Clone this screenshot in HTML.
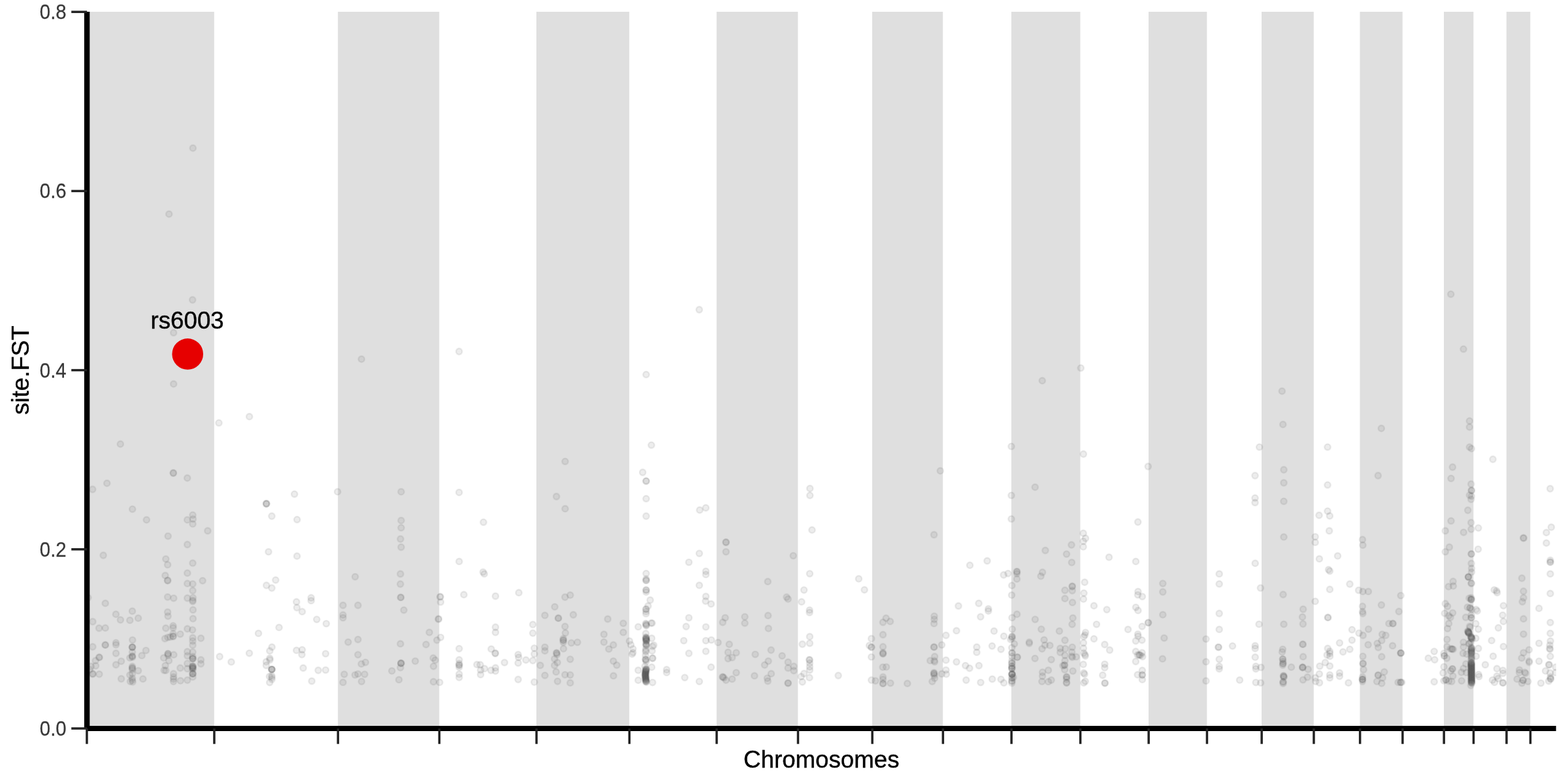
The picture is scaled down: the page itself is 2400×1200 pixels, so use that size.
<!DOCTYPE html>
<html lang="en">
<head>
<meta charset="utf-8">
<title>site.FST by Chromosomes</title>
<style>
html,body{margin:0;padding:0;background:#fff}
body{width:2400px;height:1200px;overflow:hidden;font-family:"Liberation Sans",sans-serif}
svg{display:block}
text{font-family:"Liberation Sans",sans-serif}
.band{fill:#dfdfdf}
.p circle{fill:#4d4d4d;fill-opacity:.1;stroke:#4d4d4d;stroke-opacity:.1;stroke-width:2.36}
.tk{stroke:#222;stroke-width:3.5;fill:none}
.ax{stroke:#000;stroke-width:8.4;fill:none;stroke-linecap:butt}
.yl{font-size:29.33px;fill:#383838;stroke:#383838;stroke-width:.25;text-anchor:end}
.ttl{font-size:36.67px;fill:#000;stroke:#000;stroke-width:.4;text-anchor:middle}
</style>
</head>
<body>
<svg width="2400" height="1200" viewBox="0 0 2400 1200">
<defs><clipPath id="panel"><rect x="133.0" y="18.0" width="2248.7" height="1097.0"/></clipPath></defs>
<rect width="2400" height="1200" fill="#fff"/>
<g class="bands">
<rect class="band" x="132.8" y="18.0" width="195.0" height="1097.0"/>
<rect class="band" x="517.2" y="18.0" width="155.1" height="1097.0"/>
<rect class="band" x="821.0" y="18.0" width="142.2" height="1097.0"/>
<rect class="band" x="1096.8" y="18.0" width="124.5" height="1097.0"/>
<rect class="band" x="1335.0" y="18.0" width="108.2" height="1097.0"/>
<rect class="band" x="1548.0" y="18.0" width="105.5" height="1097.0"/>
<rect class="band" x="1758.0" y="18.0" width="89.3" height="1097.0"/>
<rect class="band" x="1931.0" y="18.0" width="79.8" height="1097.0"/>
<rect class="band" x="2081.5" y="18.0" width="65.2" height="1097.0"/>
<rect class="band" x="2210.0" y="18.0" width="45.3" height="1097.0"/>
<rect class="band" x="2305.8" y="18.0" width="36.5" height="1097.0"/>
</g>
<g class="p" clip-path="url(#panel)">
<circle cx="295.3" cy="226.7" r="4.7"/><circle cx="258.7" cy="327.7" r="4.7"/><circle cx="294.7" cy="459" r="4.7"/><circle cx="265.7" cy="509.3" r="4.7"/><circle cx="265.7" cy="587.7" r="4.7"/><circle cx="553.3" cy="549.7" r="4.7"/>
<circle cx="702.7" cy="538" r="4.7"/><circle cx="381.7" cy="637.7" r="4.7"/><circle cx="335" cy="647.3" r="4.7"/><circle cx="184.3" cy="679.7" r="4.7"/><circle cx="265.3" cy="724" r="4.7"/><circle cx="265.3" cy="724" r="4.7"/>
<circle cx="286.7" cy="731.7" r="4.7"/><circle cx="163.7" cy="739.7" r="4.7"/><circle cx="141.7" cy="749" r="4.7"/><circle cx="202.7" cy="779.3" r="4.7"/><circle cx="224.3" cy="795.7" r="4.7"/><circle cx="295" cy="788.3" r="4.7"/>
<circle cx="286.7" cy="795.7" r="4.7"/><circle cx="407.7" cy="771" r="4.7"/><circle cx="407.7" cy="771" r="4.7"/><circle cx="407.7" cy="771" r="4.7"/><circle cx="450.7" cy="756.3" r="4.7"/><circle cx="416" cy="790" r="4.7"/>
<circle cx="454.7" cy="795.3" r="4.7"/><circle cx="516.7" cy="752.7" r="4.7"/><circle cx="614" cy="752.7" r="4.7"/><circle cx="614" cy="796.7" r="4.7"/><circle cx="702.7" cy="753.7" r="4.7"/><circle cx="740" cy="799.3" r="4.7"/>
<circle cx="1070.3" cy="474" r="4.7"/><circle cx="989" cy="573.3" r="4.7"/><circle cx="1595.3" cy="582.7" r="4.7"/><circle cx="997" cy="681.3" r="4.7"/><circle cx="1548" cy="683.3" r="4.7"/><circle cx="865" cy="706.3" r="4.7"/>
<circle cx="983.7" cy="723" r="4.7"/><circle cx="989" cy="736.3" r="4.7"/><circle cx="989" cy="736.3" r="4.7"/><circle cx="1439.3" cy="720.7" r="4.7"/><circle cx="1239.7" cy="747.7" r="4.7"/><circle cx="1239.7" cy="758.3" r="4.7"/>
<circle cx="851.7" cy="760" r="4.7"/><circle cx="865" cy="778.7" r="4.7"/><circle cx="989" cy="763.3" r="4.7"/><circle cx="989" cy="790" r="4.7"/><circle cx="1080.3" cy="777.3" r="4.7"/><circle cx="1071" cy="780.7" r="4.7"/>
<circle cx="1584.3" cy="745.7" r="4.7"/><circle cx="1548" cy="758.3" r="4.7"/><circle cx="1548" cy="794.3" r="4.7"/><circle cx="2220.7" cy="450.3" r="4.7"/><circle cx="2240" cy="534.3" r="4.7"/><circle cx="1654.3" cy="563.3" r="4.7"/>
<circle cx="1962.3" cy="598.7" r="4.7"/><circle cx="1963.7" cy="649.7" r="4.7"/><circle cx="2114.3" cy="655.7" r="4.7"/><circle cx="2249.3" cy="644.3" r="4.7"/><circle cx="2249.3" cy="653.7" r="4.7"/><circle cx="1927.7" cy="684.3" r="4.7"/>
<circle cx="2032" cy="684.3" r="4.7"/><circle cx="2249.3" cy="684.3" r="4.7"/><circle cx="2252.3" cy="686.7" r="4.7"/><circle cx="1658.3" cy="695" r="4.7"/><circle cx="2285" cy="703" r="4.7"/><circle cx="1757.3" cy="714" r="4.7"/>
<circle cx="2223.3" cy="715" r="4.7"/><circle cx="1965" cy="719" r="4.7"/><circle cx="1921" cy="728" r="4.7"/><circle cx="2109.3" cy="728" r="4.7"/><circle cx="2221" cy="732.3" r="4.7"/><circle cx="1965" cy="739" r="4.7"/>
<circle cx="2032" cy="742.3" r="4.7"/><circle cx="2251.7" cy="741" r="4.7"/><circle cx="2252.3" cy="750.7" r="4.7"/><circle cx="2252.3" cy="750.7" r="4.7"/><circle cx="2249.3" cy="758" r="4.7"/><circle cx="2252.3" cy="759.3" r="4.7"/>
<circle cx="2251.7" cy="764.3" r="4.7"/><circle cx="2372.7" cy="748" r="4.7"/><circle cx="1921" cy="762.3" r="4.7"/><circle cx="1921" cy="769.3" r="4.7"/><circle cx="1965" cy="767.3" r="4.7"/><circle cx="2246.7" cy="781" r="4.7"/>
<circle cx="2032" cy="782.3" r="4.7"/><circle cx="2019" cy="788.7" r="4.7"/><circle cx="2035.3" cy="789.7" r="4.7"/><circle cx="2221" cy="797.3" r="4.7"/><circle cx="2251.7" cy="800" r="4.7"/><circle cx="1741.7" cy="799" r="4.7"/>
<circle cx="295" cy="801.9" r="4.7"/><circle cx="317.9" cy="812.5" r="4.7"/><circle cx="257.2" cy="820.6" r="4.7"/><circle cx="286.8" cy="833.5" r="4.7"/><circle cx="158.1" cy="850" r="4.7"/><circle cx="253.8" cy="855.6" r="4.7"/>
<circle cx="256.6" cy="864.4" r="4.7"/><circle cx="295" cy="861.9" r="4.7"/><circle cx="286.8" cy="877.2" r="4.7"/><circle cx="252.9" cy="880.9" r="4.7"/><circle cx="256.6" cy="888.5" r="4.7"/><circle cx="256.6" cy="888.5" r="4.7"/>
<circle cx="310.1" cy="888.8" r="4.7"/><circle cx="286.8" cy="893.2" r="4.7"/><circle cx="295" cy="893.8" r="4.7"/><circle cx="295" cy="904" r="4.7"/><circle cx="256.6" cy="913.8" r="4.7"/><circle cx="265.8" cy="915.6" r="4.7"/>
<circle cx="286.8" cy="915.5" r="4.7"/><circle cx="295.4" cy="915" r="4.7"/><circle cx="295" cy="918.8" r="4.7"/><circle cx="295" cy="920.6" r="4.7"/><circle cx="161.2" cy="923.4" r="4.7"/><circle cx="134.8" cy="914.8" r="4.7"/>
<circle cx="202.5" cy="935.4" r="4.7"/><circle cx="295.4" cy="933.5" r="4.7"/><circle cx="256.6" cy="936.9" r="4.7"/><circle cx="257.1" cy="943.1" r="4.7"/><circle cx="177.4" cy="940.2" r="4.7"/><circle cx="184.4" cy="948.8" r="4.7"/>
<circle cx="198.8" cy="949.4" r="4.7"/><circle cx="211.6" cy="946.2" r="4.7"/><circle cx="295.4" cy="946.9" r="4.7"/><circle cx="141.9" cy="951.5" r="4.7"/><circle cx="151.6" cy="961.5" r="4.7"/><circle cx="161.2" cy="961.2" r="4.7"/>
<circle cx="253.8" cy="961.5" r="4.7"/><circle cx="265" cy="957.8" r="4.7"/><circle cx="265" cy="961" r="4.7"/><circle cx="265" cy="970" r="4.7"/><circle cx="265" cy="974" r="4.7"/><circle cx="265" cy="974" r="4.7"/>
<circle cx="260.6" cy="975" r="4.7"/><circle cx="256.9" cy="975.6" r="4.7"/><circle cx="252.5" cy="977.5" r="4.7"/><circle cx="275.9" cy="970.6" r="4.7"/><circle cx="286.8" cy="962.5" r="4.7"/><circle cx="294.6" cy="964.1" r="4.7"/>
<circle cx="295" cy="976.2" r="4.7"/><circle cx="295" cy="981.2" r="4.7"/><circle cx="295" cy="987.5" r="4.7"/><circle cx="295" cy="998.1" r="4.7"/><circle cx="295" cy="1005" r="4.7"/><circle cx="295" cy="1008.1" r="4.7"/>
<circle cx="295" cy="1008.1" r="4.7"/><circle cx="295" cy="1008.1" r="4.7"/><circle cx="295" cy="1020" r="4.7"/><circle cx="295" cy="1020" r="4.7"/><circle cx="295" cy="1020" r="4.7"/><circle cx="295" cy="1022.5" r="4.7"/>
<circle cx="295" cy="1022.5" r="4.7"/><circle cx="295" cy="1022.5" r="4.7"/><circle cx="295" cy="1025" r="4.7"/><circle cx="295" cy="1031.2" r="4.7"/><circle cx="295" cy="1031.2" r="4.7"/><circle cx="295" cy="1031.2" r="4.7"/>
<circle cx="295" cy="1036.2" r="4.7"/><circle cx="307.5" cy="976.9" r="4.7"/><circle cx="307.5" cy="1010" r="4.7"/><circle cx="307.5" cy="1016" r="4.7"/><circle cx="286.8" cy="997.5" r="4.7"/><circle cx="286.8" cy="1003.8" r="4.7"/>
<circle cx="286.8" cy="1015.6" r="4.7"/><circle cx="286.8" cy="1023.5" r="4.7"/><circle cx="286.8" cy="1041" r="4.7"/><circle cx="257.1" cy="1000.6" r="4.7"/><circle cx="257.1" cy="1000.6" r="4.7"/><circle cx="257.1" cy="1003.1" r="4.7"/>
<circle cx="265.9" cy="1002.2" r="4.7"/><circle cx="250.6" cy="1006.9" r="4.7"/><circle cx="258.5" cy="1011.2" r="4.7"/><circle cx="253.1" cy="1018.8" r="4.7"/><circle cx="251.2" cy="1026" r="4.7"/><circle cx="253.8" cy="1026.2" r="4.7"/>
<circle cx="275.9" cy="1022.5" r="4.7"/><circle cx="265.6" cy="1031.2" r="4.7"/><circle cx="265.6" cy="1036.2" r="4.7"/><circle cx="265.6" cy="1039.4" r="4.7"/><circle cx="265.6" cy="1043.1" r="4.7"/><circle cx="276.2" cy="1041.9" r="4.7"/>
<circle cx="141.9" cy="990" r="4.7"/><circle cx="161.2" cy="987.2" r="4.7"/><circle cx="161.2" cy="987.2" r="4.7"/><circle cx="177.5" cy="983.8" r="4.7"/><circle cx="177.5" cy="986.9" r="4.7"/><circle cx="177.5" cy="1000" r="4.7"/>
<circle cx="151.9" cy="1006.2" r="4.7"/><circle cx="151.9" cy="1006.2" r="4.7"/><circle cx="146.2" cy="1011.2" r="4.7"/><circle cx="146.5" cy="1019.1" r="4.7"/><circle cx="139.4" cy="1020" r="4.7"/><circle cx="137.5" cy="1025" r="4.7"/>
<circle cx="141.9" cy="1031.5" r="4.7"/><circle cx="141.9" cy="1031.5" r="4.7"/><circle cx="151.9" cy="1031.9" r="4.7"/><circle cx="177.5" cy="1017.5" r="4.7"/><circle cx="185.6" cy="1012.1" r="4.7"/><circle cx="185.6" cy="1039" r="4.7"/>
<circle cx="202.8" cy="979.6" r="4.7"/><circle cx="202.5" cy="990.6" r="4.7"/><circle cx="202.5" cy="990.6" r="4.7"/><circle cx="202.5" cy="990.6" r="4.7"/><circle cx="202.5" cy="998.1" r="4.7"/><circle cx="202.5" cy="1004.4" r="4.7"/>
<circle cx="202.5" cy="1004.4" r="4.7"/><circle cx="202.5" cy="1006.2" r="4.7"/><circle cx="198.8" cy="1006.9" r="4.7"/><circle cx="202.5" cy="1020" r="4.7"/><circle cx="202.5" cy="1022.5" r="4.7"/><circle cx="202.5" cy="1022.5" r="4.7"/>
<circle cx="202.5" cy="1025" r="4.7"/><circle cx="198.8" cy="1033.1" r="4.7"/><circle cx="202.5" cy="1031.2" r="4.7"/><circle cx="202.5" cy="1038.1" r="4.7"/><circle cx="202.5" cy="1041.2" r="4.7"/><circle cx="199.4" cy="1043.1" r="4.7"/>
<circle cx="203.1" cy="1043.8" r="4.7"/><circle cx="223.4" cy="995.6" r="4.7"/><circle cx="217.1" cy="1003.4" r="4.7"/><circle cx="211.6" cy="1026.6" r="4.7"/><circle cx="218.8" cy="1039.2" r="4.7"/><circle cx="395.6" cy="969.4" r="4.7"/>
<circle cx="381.6" cy="999.8" r="4.7"/><circle cx="336.2" cy="1005" r="4.7"/><circle cx="354" cy="1013.2" r="4.7"/><circle cx="614" cy="807.8" r="4.7"/><circle cx="613" cy="825" r="4.7"/><circle cx="614" cy="837.5" r="4.7"/>
<circle cx="612.9" cy="878.5" r="4.7"/><circle cx="612.8" cy="894" r="4.7"/><circle cx="613.4" cy="914.4" r="4.7"/><circle cx="613.4" cy="914.4" r="4.7"/><circle cx="618.1" cy="933.8" r="4.7"/><circle cx="411" cy="844.6" r="4.7"/>
<circle cx="454.6" cy="851.2" r="4.7"/><circle cx="421.9" cy="887.8" r="4.7"/><circle cx="407.8" cy="896" r="4.7"/><circle cx="416" cy="900" r="4.7"/><circle cx="543.6" cy="882.8" r="4.7"/><circle cx="525" cy="926.5" r="4.7"/>
<circle cx="547.9" cy="926.5" r="4.7"/><circle cx="525" cy="941.2" r="4.7"/><circle cx="525" cy="945.6" r="4.7"/><circle cx="476.2" cy="915" r="4.7"/><circle cx="476.2" cy="919.4" r="4.7"/><circle cx="453.8" cy="921.2" r="4.7"/>
<circle cx="454.4" cy="930" r="4.7"/><circle cx="462.5" cy="936.2" r="4.7"/><circle cx="484.8" cy="948.1" r="4.7"/><circle cx="673.8" cy="913.5" r="4.7"/><circle cx="673.8" cy="913.5" r="4.7"/><circle cx="674.4" cy="921.5" r="4.7"/>
<circle cx="671.2" cy="947.5" r="4.7"/><circle cx="671.2" cy="947.5" r="4.7"/><circle cx="499.4" cy="954.6" r="4.7"/><circle cx="427.1" cy="960.4" r="4.7"/><circle cx="416.2" cy="990.4" r="4.7"/><circle cx="412.9" cy="996.2" r="4.7"/>
<circle cx="412.9" cy="1007.5" r="4.7"/><circle cx="413.1" cy="1010" r="4.7"/><circle cx="407.5" cy="1012.9" r="4.7"/><circle cx="407.5" cy="1018.5" r="4.7"/><circle cx="416" cy="1024.6" r="4.7"/><circle cx="416" cy="1024.6" r="4.7"/>
<circle cx="416" cy="1024.6" r="4.7"/><circle cx="416" cy="1024.6" r="4.7"/><circle cx="412.5" cy="1035.4" r="4.7"/><circle cx="416" cy="1034.4" r="4.7"/><circle cx="416" cy="1036.9" r="4.7"/><circle cx="416.2" cy="1039.8" r="4.7"/>
<circle cx="412.8" cy="1044.6" r="4.7"/><circle cx="453.8" cy="995.4" r="4.7"/><circle cx="462.5" cy="994.6" r="4.7"/><circle cx="462.1" cy="1001.9" r="4.7"/><circle cx="498.4" cy="1000.6" r="4.7"/><circle cx="464.1" cy="1022.5" r="4.7"/>
<circle cx="487.1" cy="1026" r="4.7"/><circle cx="498.4" cy="1025.6" r="4.7"/><circle cx="477.2" cy="1042.5" r="4.7"/><circle cx="532.9" cy="982.8" r="4.7"/><circle cx="547.9" cy="978.8" r="4.7"/><circle cx="547.9" cy="1002.1" r="4.7"/>
<circle cx="559.4" cy="1013.8" r="4.7"/><circle cx="553.1" cy="1016.2" r="4.7"/><circle cx="526.9" cy="1032.1" r="4.7"/><circle cx="543.4" cy="1033.1" r="4.7"/><circle cx="547.9" cy="1031.6" r="4.7"/><circle cx="558.1" cy="1032.1" r="4.7"/>
<circle cx="525" cy="1044.4" r="4.7"/><circle cx="553.4" cy="1043.1" r="4.7"/><circle cx="612.9" cy="985.4" r="4.7"/><circle cx="613.8" cy="1015.2" r="4.7"/><circle cx="613.8" cy="1015.2" r="4.7"/><circle cx="613.8" cy="1015.2" r="4.7"/>
<circle cx="612.9" cy="1021.9" r="4.7"/><circle cx="599.8" cy="1026.9" r="4.7"/><circle cx="610.6" cy="1040.4" r="4.7"/><circle cx="635.6" cy="1011.9" r="4.7"/><circle cx="657.2" cy="967.9" r="4.7"/><circle cx="674.4" cy="975.6" r="4.7"/>
<circle cx="668.8" cy="979.8" r="4.7"/><circle cx="652.1" cy="986.5" r="4.7"/><circle cx="663.1" cy="1007.2" r="4.7"/><circle cx="666.2" cy="1010.4" r="4.7"/><circle cx="663.5" cy="1019.8" r="4.7"/><circle cx="663.5" cy="1043.5" r="4.7"/>
<circle cx="672.9" cy="1044.4" r="4.7"/><circle cx="702.8" cy="859.4" r="4.7"/><circle cx="739.4" cy="875.6" r="4.7"/><circle cx="741.2" cy="878.4" r="4.7"/><circle cx="710" cy="910.2" r="4.7"/><circle cx="758.4" cy="912.5" r="4.7"/>
<circle cx="794.1" cy="907.2" r="4.7"/><circle cx="872.8" cy="910.9" r="4.7"/><circle cx="864.8" cy="914" r="4.7"/><circle cx="849.1" cy="928.8" r="4.7"/><circle cx="834" cy="941.9" r="4.7"/><circle cx="854.6" cy="946.2" r="4.7"/>
<circle cx="854.6" cy="946.2" r="4.7"/><circle cx="877.5" cy="941" r="4.7"/><circle cx="930.2" cy="947.5" r="4.7"/><circle cx="989" cy="877.8" r="4.7"/><circle cx="989" cy="886.2" r="4.7"/><circle cx="989" cy="888.4" r="4.7"/>
<circle cx="989" cy="888.4" r="4.7"/><circle cx="989" cy="903.1" r="4.7"/><circle cx="989" cy="903.1" r="4.7"/><circle cx="989" cy="906.2" r="4.7"/><circle cx="995.2" cy="918.5" r="4.7"/><circle cx="991.9" cy="927.5" r="4.7"/>
<circle cx="988.8" cy="932.5" r="4.7"/><circle cx="988.8" cy="932.5" r="4.7"/><circle cx="988.8" cy="936.2" r="4.7"/><circle cx="988.8" cy="939.4" r="4.7"/><circle cx="702.8" cy="992.8" r="4.7"/><circle cx="702.8" cy="1010" r="4.7"/>
<circle cx="702.8" cy="1015.6" r="4.7"/><circle cx="702.8" cy="1018.1" r="4.7"/><circle cx="702.8" cy="1018.1" r="4.7"/><circle cx="702.8" cy="1021.2" r="4.7"/><circle cx="702.8" cy="1031.9" r="4.7"/><circle cx="702.8" cy="1036.9" r="4.7"/>
<circle cx="758.4" cy="960" r="4.7"/><circle cx="758.4" cy="967.9" r="4.7"/><circle cx="751.9" cy="993.4" r="4.7"/><circle cx="758.1" cy="1000" r="4.7"/><circle cx="758.1" cy="1000" r="4.7"/><circle cx="772.2" cy="1014.1" r="4.7"/>
<circle cx="730" cy="1017.2" r="4.7"/><circle cx="735" cy="1017.5" r="4.7"/><circle cx="735.6" cy="1025.6" r="4.7"/><circle cx="741.6" cy="1023.4" r="4.7"/><circle cx="735.6" cy="1032.5" r="4.7"/><circle cx="751.5" cy="1026" r="4.7"/>
<circle cx="758.4" cy="1022.2" r="4.7"/><circle cx="758.4" cy="1027.1" r="4.7"/><circle cx="793.1" cy="1001.9" r="4.7"/><circle cx="793.8" cy="1006.2" r="4.7"/><circle cx="793.1" cy="1014.8" r="4.7"/><circle cx="805" cy="1010.2" r="4.7"/>
<circle cx="793.1" cy="1040" r="4.7"/><circle cx="815.6" cy="955.9" r="4.7"/><circle cx="815.6" cy="969.1" r="4.7"/><circle cx="817.8" cy="992.1" r="4.7"/><circle cx="817.8" cy="1001" r="4.7"/><circle cx="815.6" cy="1011" r="4.7"/>
<circle cx="817.8" cy="1044" r="4.7"/><circle cx="954" cy="954.1" r="4.7"/><circle cx="954" cy="967.9" r="4.7"/><circle cx="864.8" cy="959" r="4.7"/><circle cx="865.4" cy="968.8" r="4.7"/><circle cx="862.2" cy="977.5" r="4.7"/>
<circle cx="862.2" cy="980" r="4.7"/><circle cx="862.2" cy="980" r="4.7"/><circle cx="862.2" cy="983.1" r="4.7"/><circle cx="862.5" cy="992.9" r="4.7"/><circle cx="874.4" cy="984.1" r="4.7"/><circle cx="883.8" cy="983.1" r="4.7"/>
<circle cx="924.4" cy="970.9" r="4.7"/><circle cx="924.4" cy="982.8" r="4.7"/><circle cx="938.8" cy="987.2" r="4.7"/><circle cx="931.9" cy="993.4" r="4.7"/><circle cx="834" cy="990.6" r="4.7"/><circle cx="834" cy="996.2" r="4.7"/>
<circle cx="851.9" cy="999.4" r="4.7"/><circle cx="851.9" cy="999.4" r="4.7"/><circle cx="852.5" cy="1001.9" r="4.7"/><circle cx="848.8" cy="1008.5" r="4.7"/><circle cx="853.1" cy="1014.1" r="4.7"/><circle cx="848.8" cy="1018.5" r="4.7"/>
<circle cx="826.9" cy="1018.4" r="4.7"/><circle cx="851.2" cy="1028.4" r="4.7"/><circle cx="834" cy="1033.8" r="4.7"/><circle cx="864.8" cy="1032.8" r="4.7"/><circle cx="872.8" cy="1033.1" r="4.7"/><circle cx="872.8" cy="1009.1" r="4.7"/>
<circle cx="853.4" cy="1042.8" r="4.7"/><circle cx="872.8" cy="1045.2" r="4.7"/><circle cx="938.8" cy="1011.9" r="4.7"/><circle cx="944" cy="1018.1" r="4.7"/><circle cx="939" cy="1034.4" r="4.7"/><circle cx="963.5" cy="981.2" r="4.7"/>
<circle cx="965.6" cy="986.9" r="4.7"/><circle cx="968.8" cy="993.1" r="4.7"/><circle cx="968.8" cy="998.8" r="4.7"/><circle cx="967.5" cy="1001.2" r="4.7"/><circle cx="976.9" cy="959.4" r="4.7"/><circle cx="976.9" cy="1025.9" r="4.7"/>
<circle cx="976.9" cy="1041.2" r="4.7"/><circle cx="1242.9" cy="811.2" r="4.7"/><circle cx="1111.2" cy="830" r="4.7"/><circle cx="1111.2" cy="830" r="4.7"/><circle cx="1111.2" cy="844.6" r="4.7"/><circle cx="1214.2" cy="850.6" r="4.7"/>
<circle cx="1070.4" cy="847.1" r="4.7"/><circle cx="1054.4" cy="860.6" r="4.7"/><circle cx="1080.4" cy="874.4" r="4.7"/><circle cx="1080.4" cy="879.4" r="4.7"/><circle cx="1239.4" cy="878.1" r="4.7"/><circle cx="1175.2" cy="890.2" r="4.7"/>
<circle cx="1070.4" cy="895.9" r="4.7"/><circle cx="1230.6" cy="903.1" r="4.7"/><circle cx="1080.4" cy="912.9" r="4.7"/><circle cx="1080" cy="920" r="4.7"/><circle cx="1088.4" cy="924.4" r="4.7"/><circle cx="1204" cy="914" r="4.7"/>
<circle cx="1206.2" cy="916.9" r="4.7"/><circle cx="1226.9" cy="921.2" r="4.7"/><circle cx="1239.1" cy="933.8" r="4.7"/><circle cx="1239.1" cy="937.5" r="4.7"/><circle cx="1054.4" cy="945.6" r="4.7"/><circle cx="1110" cy="945.6" r="4.7"/>
<circle cx="1140" cy="944.1" r="4.7"/><circle cx="1175.6" cy="942.2" r="4.7"/><circle cx="998.1" cy="953.8" r="4.7"/><circle cx="997.5" cy="976.9" r="4.7"/><circle cx="1000.6" cy="987.5" r="4.7"/><circle cx="998.8" cy="989.4" r="4.7"/>
<circle cx="998.1" cy="996.2" r="4.7"/><circle cx="998.8" cy="1007.5" r="4.7"/><circle cx="998.8" cy="1007.5" r="4.7"/><circle cx="997.5" cy="1021.2" r="4.7"/><circle cx="998.8" cy="1044.6" r="4.7"/><circle cx="1050.2" cy="959" r="4.7"/>
<circle cx="1080.4" cy="959.6" r="4.7"/><circle cx="1046.6" cy="980.6" r="4.7"/><circle cx="1080.4" cy="980.6" r="4.7"/><circle cx="1088.8" cy="979.6" r="4.7"/><circle cx="1054.4" cy="1000" r="4.7"/><circle cx="1080.4" cy="996.9" r="4.7"/>
<circle cx="1088.4" cy="1021.2" r="4.7"/><circle cx="1020.4" cy="1025" r="4.7"/><circle cx="1020.4" cy="1029.4" r="4.7"/><circle cx="1048.1" cy="1037.1" r="4.7"/><circle cx="1070.4" cy="1043.1" r="4.7"/><circle cx="1106.2" cy="952.5" r="4.7"/>
<circle cx="1140" cy="953.8" r="4.7"/><circle cx="1176.2" cy="961.9" r="4.7"/><circle cx="1099" cy="983.4" r="4.7"/><circle cx="1116.2" cy="986.2" r="4.7"/><circle cx="1114.4" cy="998.5" r="4.7"/><circle cx="1126.9" cy="999.1" r="4.7"/>
<circle cx="1114.4" cy="1008.1" r="4.7"/><circle cx="1120.6" cy="1006.5" r="4.7"/><circle cx="1156" cy="1001.6" r="4.7"/><circle cx="1180.2" cy="995" r="4.7"/><circle cx="1197.1" cy="1003.8" r="4.7"/><circle cx="1176" cy="1011.9" r="4.7"/>
<circle cx="1170.4" cy="1017.8" r="4.7"/><circle cx="1206.2" cy="1013.5" r="4.7"/><circle cx="1206.2" cy="1022.5" r="4.7"/><circle cx="1215" cy="1020" r="4.7"/><circle cx="1215" cy="1026.5" r="4.7"/><circle cx="1126.9" cy="1029.6" r="4.7"/>
<circle cx="1154.8" cy="1034.4" r="4.7"/><circle cx="1180.4" cy="1031.2" r="4.7"/><circle cx="1174.4" cy="1038.1" r="4.7"/><circle cx="1175.2" cy="1042.5" r="4.7"/><circle cx="1106.2" cy="1036.2" r="4.7"/><circle cx="1106.2" cy="1036.2" r="4.7"/>
<circle cx="1108.1" cy="1037.5" r="4.7"/><circle cx="1111.2" cy="1041" r="4.7"/><circle cx="1120.6" cy="1039.4" r="4.7"/><circle cx="1206.2" cy="1045.6" r="4.7"/><circle cx="1206.2" cy="1045.6" r="4.7"/><circle cx="1239.4" cy="974.4" r="4.7"/>
<circle cx="1239.4" cy="984.6" r="4.7"/><circle cx="1228.1" cy="986" r="4.7"/><circle cx="1239" cy="1010" r="4.7"/><circle cx="1239" cy="1010" r="4.7"/><circle cx="1239.4" cy="1015" r="4.7"/><circle cx="1239.4" cy="1020.6" r="4.7"/>
<circle cx="1239.4" cy="1025.6" r="4.7"/><circle cx="1230.6" cy="1031" r="4.7"/><circle cx="1226.2" cy="1035.6" r="4.7"/><circle cx="1239" cy="1037.2" r="4.7"/><circle cx="1228.1" cy="1043.8" r="4.7"/><circle cx="1283.1" cy="1034" r="4.7"/>
<circle cx="1429.6" cy="818.5" r="4.7"/><circle cx="1314.4" cy="885.9" r="4.7"/><circle cx="1323.1" cy="902.8" r="4.7"/><circle cx="1511" cy="858.5" r="4.7"/><circle cx="1484.5" cy="865.2" r="4.7"/><circle cx="1542.9" cy="877.8" r="4.7"/>
<circle cx="1536.2" cy="880" r="4.7"/><circle cx="1556.5" cy="875" r="4.7"/><circle cx="1556.5" cy="875" r="4.7"/><circle cx="1556.5" cy="878.1" r="4.7"/><circle cx="1556.5" cy="886.2" r="4.7"/><circle cx="1548.8" cy="896.2" r="4.7"/>
<circle cx="1548.5" cy="910.9" r="4.7"/><circle cx="1595.6" cy="876" r="4.7"/><circle cx="1593.1" cy="881.9" r="4.7"/><circle cx="1467" cy="927.5" r="4.7"/><circle cx="1498.1" cy="923.5" r="4.7"/><circle cx="1512.8" cy="931.9" r="4.7"/>
<circle cx="1512.8" cy="935.2" r="4.7"/><circle cx="1500.9" cy="944.1" r="4.7"/><circle cx="1556.6" cy="940.2" r="4.7"/><circle cx="1549" cy="945.4" r="4.7"/><circle cx="1584.4" cy="948.1" r="4.7"/><circle cx="1356.2" cy="946.2" r="4.7"/>
<circle cx="1430" cy="943.1" r="4.7"/><circle cx="1430" cy="948.1" r="4.7"/><circle cx="1351.5" cy="952.5" r="4.7"/><circle cx="1362.5" cy="951.2" r="4.7"/><circle cx="1429.6" cy="954.4" r="4.7"/><circle cx="1351.5" cy="971.5" r="4.7"/>
<circle cx="1333.8" cy="977.5" r="4.7"/><circle cx="1330.6" cy="988.1" r="4.7"/><circle cx="1333.8" cy="990.6" r="4.7"/><circle cx="1333.8" cy="990.6" r="4.7"/><circle cx="1351.5" cy="990" r="4.7"/><circle cx="1351.5" cy="998.8" r="4.7"/>
<circle cx="1351.5" cy="1000.6" r="4.7"/><circle cx="1351.5" cy="1000.6" r="4.7"/><circle cx="1333.8" cy="1005.6" r="4.7"/><circle cx="1351.2" cy="1021.2" r="4.7"/><circle cx="1356.6" cy="1020.9" r="4.7"/><circle cx="1351.5" cy="1036.2" r="4.7"/>
<circle cx="1351.5" cy="1040" r="4.7"/><circle cx="1351.5" cy="1046.2" r="4.7"/><circle cx="1351.5" cy="1046.2" r="4.7"/><circle cx="1333.8" cy="1041" r="4.7"/><circle cx="1340" cy="1042.1" r="4.7"/><circle cx="1362.9" cy="1045.6" r="4.7"/>
<circle cx="1388.8" cy="1046.2" r="4.7"/><circle cx="1429.6" cy="990.4" r="4.7"/><circle cx="1429.6" cy="990.4" r="4.7"/><circle cx="1441.5" cy="987.1" r="4.7"/><circle cx="1430.6" cy="1005" r="4.7"/><circle cx="1423.8" cy="1011.2" r="4.7"/>
<circle cx="1430" cy="1011.2" r="4.7"/><circle cx="1430.6" cy="1013.1" r="4.7"/><circle cx="1429.6" cy="1029.4" r="4.7"/><circle cx="1429.6" cy="1031.2" r="4.7"/><circle cx="1429.6" cy="1031.2" r="4.7"/><circle cx="1430" cy="1033.8" r="4.7"/>
<circle cx="1430.6" cy="1038.1" r="4.7"/><circle cx="1426.9" cy="1043.1" r="4.7"/><circle cx="1441.5" cy="1031.5" r="4.7"/><circle cx="1447.9" cy="972.5" r="4.7"/><circle cx="1464" cy="965.4" r="4.7"/><circle cx="1447.9" cy="1010.4" r="4.7"/>
<circle cx="1464" cy="1013.1" r="4.7"/><circle cx="1447.9" cy="1025.6" r="4.7"/><circle cx="1448.4" cy="1031.9" r="4.7"/><circle cx="1477.8" cy="1018.8" r="4.7"/><circle cx="1484" cy="1022.8" r="4.7"/><circle cx="1498.4" cy="1018.8" r="4.7"/>
<circle cx="1495" cy="990.4" r="4.7"/><circle cx="1495" cy="998.4" r="4.7"/><circle cx="1521.5" cy="965.9" r="4.7"/><circle cx="1536.5" cy="973.8" r="4.7"/><circle cx="1518.5" cy="988.8" r="4.7"/><circle cx="1532.1" cy="993.8" r="4.7"/>
<circle cx="1478.8" cy="1041" r="4.7"/><circle cx="1501" cy="1044.6" r="4.7"/><circle cx="1518.8" cy="1039.4" r="4.7"/><circle cx="1532.1" cy="1039.8" r="4.7"/><circle cx="1536.5" cy="1045.2" r="4.7"/><circle cx="1549.4" cy="963.1" r="4.7"/>
<circle cx="1549" cy="974.4" r="4.7"/><circle cx="1549" cy="974.4" r="4.7"/><circle cx="1549" cy="976.9" r="4.7"/><circle cx="1546.9" cy="978.8" r="4.7"/><circle cx="1552.5" cy="985.6" r="4.7"/><circle cx="1548.8" cy="991.2" r="4.7"/>
<circle cx="1549" cy="999.4" r="4.7"/><circle cx="1549" cy="999.4" r="4.7"/><circle cx="1549" cy="1005" r="4.7"/><circle cx="1548.8" cy="1011.2" r="4.7"/><circle cx="1548.8" cy="1015" r="4.7"/><circle cx="1548.8" cy="1015" r="4.7"/>
<circle cx="1548.8" cy="1020" r="4.7"/><circle cx="1548.8" cy="1020" r="4.7"/><circle cx="1548.8" cy="1023.1" r="4.7"/><circle cx="1548.8" cy="1023.1" r="4.7"/><circle cx="1548.8" cy="1023.1" r="4.7"/><circle cx="1549" cy="1031.9" r="4.7"/>
<circle cx="1549" cy="1031.9" r="4.7"/><circle cx="1549" cy="1031.9" r="4.7"/><circle cx="1549" cy="1031.9" r="4.7"/><circle cx="1549" cy="1031.9" r="4.7"/><circle cx="1549" cy="1037.5" r="4.7"/><circle cx="1549" cy="1037.5" r="4.7"/>
<circle cx="1551.2" cy="1036.9" r="4.7"/><circle cx="1548.8" cy="1042.5" r="4.7"/><circle cx="1548.8" cy="1042.5" r="4.7"/><circle cx="1548.8" cy="1045.6" r="4.7"/><circle cx="1557.1" cy="1005.9" r="4.7"/><circle cx="1557.1" cy="1005.9" r="4.7"/>
<circle cx="1575.4" cy="982.8" r="4.7"/><circle cx="1575.4" cy="984.8" r="4.7"/><circle cx="1584.1" cy="1007.8" r="4.7"/><circle cx="1593.8" cy="963.1" r="4.7"/><circle cx="1598.1" cy="979.4" r="4.7"/><circle cx="1595" cy="993.1" r="4.7"/>
<circle cx="1595.6" cy="1029" r="4.7"/><circle cx="1595.6" cy="1035" r="4.7"/><circle cx="1594.8" cy="1043.1" r="4.7"/><circle cx="1600" cy="842.5" r="4.7"/><circle cx="1640" cy="834" r="4.7"/><circle cx="1632.5" cy="848.1" r="4.7"/>
<circle cx="1640.4" cy="860.9" r="4.7"/><circle cx="1641.2" cy="897.5" r="4.7"/><circle cx="1641.2" cy="897.5" r="4.7"/><circle cx="1641.2" cy="904" r="4.7"/><circle cx="1630" cy="903.5" r="4.7"/><circle cx="1630" cy="916.2" r="4.7"/>
<circle cx="1641.5" cy="922.2" r="4.7"/><circle cx="1642.1" cy="945.9" r="4.7"/><circle cx="1658.1" cy="816.2" r="4.7"/><circle cx="1661.5" cy="824" r="4.7"/><circle cx="1658.1" cy="828.5" r="4.7"/><circle cx="1658.1" cy="836.9" r="4.7"/>
<circle cx="1660.2" cy="891.2" r="4.7"/><circle cx="1659" cy="907.8" r="4.7"/><circle cx="1658.4" cy="916.9" r="4.7"/><circle cx="1674.4" cy="927.2" r="4.7"/><circle cx="1694.1" cy="933.1" r="4.7"/><circle cx="1697.5" cy="852.9" r="4.7"/>
<circle cx="1738.5" cy="859.4" r="4.7"/><circle cx="1741.9" cy="905.4" r="4.7"/><circle cx="1741.6" cy="910.6" r="4.7"/><circle cx="1748.4" cy="913.1" r="4.7"/><circle cx="1738.5" cy="929.6" r="4.7"/><circle cx="1741.9" cy="934.4" r="4.7"/>
<circle cx="1779.8" cy="893.1" r="4.7"/><circle cx="1779.8" cy="906" r="4.7"/><circle cx="1779.8" cy="940.9" r="4.7"/><circle cx="1866.2" cy="878.4" r="4.7"/><circle cx="1866.2" cy="893.8" r="4.7"/><circle cx="1866.2" cy="939" r="4.7"/>
<circle cx="1641" cy="955.6" r="4.7"/><circle cx="1621.5" cy="965.9" r="4.7"/><circle cx="1630" cy="980" r="4.7"/><circle cx="1606.9" cy="987.9" r="4.7"/><circle cx="1599.4" cy="987.5" r="4.7"/><circle cx="1622.8" cy="992.5" r="4.7"/>
<circle cx="1630.6" cy="992.9" r="4.7"/><circle cx="1641.2" cy="990.6" r="4.7"/><circle cx="1622.8" cy="998.5" r="4.7"/><circle cx="1640.6" cy="998.1" r="4.7"/><circle cx="1630" cy="1003.1" r="4.7"/><circle cx="1640.6" cy="1004.4" r="4.7"/>
<circle cx="1641.2" cy="1006.2" r="4.7"/><circle cx="1647.2" cy="1005.4" r="4.7"/><circle cx="1609.1" cy="1009.6" r="4.7"/><circle cx="1630" cy="1011.2" r="4.7"/><circle cx="1629.4" cy="1018.1" r="4.7"/><circle cx="1629.4" cy="1018.1" r="4.7"/>
<circle cx="1626.9" cy="1018.8" r="4.7"/><circle cx="1629.6" cy="1025" r="4.7"/><circle cx="1642.1" cy="1027.1" r="4.7"/><circle cx="1604.6" cy="1025.9" r="4.7"/><circle cx="1632.5" cy="1036.2" r="4.7"/><circle cx="1632.5" cy="1036.2" r="4.7"/>
<circle cx="1632.5" cy="1039.4" r="4.7"/><circle cx="1632.5" cy="1045" r="4.7"/><circle cx="1632.5" cy="1045" r="4.7"/><circle cx="1609.1" cy="1041" r="4.7"/><circle cx="1604.6" cy="1043.4" r="4.7"/><circle cx="1661.5" cy="968.1" r="4.7"/>
<circle cx="1660.6" cy="971.9" r="4.7"/><circle cx="1658.8" cy="974.4" r="4.7"/><circle cx="1658.4" cy="984" r="4.7"/><circle cx="1658.4" cy="992.2" r="4.7"/><circle cx="1658.8" cy="999.4" r="4.7"/><circle cx="1660.6" cy="1001.9" r="4.7"/>
<circle cx="1661.2" cy="1004" r="4.7"/><circle cx="1658.1" cy="1016.9" r="4.7"/><circle cx="1658.8" cy="1030" r="4.7"/><circle cx="1660" cy="1031.9" r="4.7"/><circle cx="1661.2" cy="1042.8" r="4.7"/><circle cx="1658.8" cy="1045.2" r="4.7"/>
<circle cx="1678.4" cy="955.6" r="4.7"/><circle cx="1674.4" cy="977.8" r="4.7"/><circle cx="1690.9" cy="986.5" r="4.7"/><circle cx="1698.5" cy="995" r="4.7"/><circle cx="1690.9" cy="1016.6" r="4.7"/><circle cx="1690.9" cy="1021.9" r="4.7"/>
<circle cx="1687.8" cy="1033.5" r="4.7"/><circle cx="1691.2" cy="1045.6" r="4.7"/><circle cx="1691.2" cy="1045.6" r="4.7"/><circle cx="1726.6" cy="963.4" r="4.7"/><circle cx="1748.1" cy="958.8" r="4.7"/><circle cx="1757.5" cy="953.1" r="4.7"/>
<circle cx="1757.5" cy="953.1" r="4.7"/><circle cx="1741.6" cy="970.6" r="4.7"/><circle cx="1741.9" cy="973.8" r="4.7"/><circle cx="1738.4" cy="981" r="4.7"/><circle cx="1747.9" cy="979.8" r="4.7"/><circle cx="1738.4" cy="997.2" r="4.7"/>
<circle cx="1748.1" cy="999.1" r="4.7"/><circle cx="1741.2" cy="1002.5" r="4.7"/><circle cx="1743.8" cy="1002.5" r="4.7"/><circle cx="1743.8" cy="1002.5" r="4.7"/><circle cx="1746.2" cy="1003.1" r="4.7"/><circle cx="1748.8" cy="1005" r="4.7"/>
<circle cx="1738.4" cy="1012.5" r="4.7"/><circle cx="1748.4" cy="1026.2" r="4.7"/><circle cx="1741.2" cy="1032.8" r="4.7"/><circle cx="1748.4" cy="1033.1" r="4.7"/><circle cx="1748.4" cy="1033.1" r="4.7"/><circle cx="1748.4" cy="1040.2" r="4.7"/>
<circle cx="1781.9" cy="976.6" r="4.7"/><circle cx="1779.4" cy="1008.4" r="4.7"/><circle cx="1846" cy="978.1" r="4.7"/><circle cx="1846" cy="1012.9" r="4.7"/><circle cx="1846" cy="1042.2" r="4.7"/><circle cx="1866.2" cy="963.4" r="4.7"/>
<circle cx="1865" cy="990.6" r="4.7"/><circle cx="1865" cy="990.6" r="4.7"/><circle cx="1886.5" cy="988.8" r="4.7"/><circle cx="1866.2" cy="1009.1" r="4.7"/><circle cx="1866.2" cy="1020" r="4.7"/><circle cx="1866.2" cy="1023.8" r="4.7"/>
<circle cx="1897.5" cy="1040.9" r="4.7"/><circle cx="1965" cy="821.9" r="4.7"/><circle cx="1921.2" cy="862.2" r="4.7"/><circle cx="1929.4" cy="900" r="4.7"/><circle cx="1964" cy="910" r="4.7"/><circle cx="1994.6" cy="932.5" r="4.7"/>
<circle cx="1993.5" cy="944.4" r="4.7"/><circle cx="2034.6" cy="812.5" r="4.7"/><circle cx="2013.1" cy="821.6" r="4.7"/><circle cx="2013.1" cy="830.2" r="4.7"/><circle cx="2019.4" cy="855.4" r="4.7"/><circle cx="2047.5" cy="850.9" r="4.7"/>
<circle cx="2033.5" cy="871.9" r="4.7"/><circle cx="2035.4" cy="874.1" r="4.7"/><circle cx="2066" cy="894" r="4.7"/><circle cx="2035.4" cy="902.2" r="4.7"/><circle cx="2013.1" cy="920.4" r="4.7"/><circle cx="2032.5" cy="945.2" r="4.7"/>
<circle cx="2032.5" cy="945.2" r="4.7"/><circle cx="2085.4" cy="825.9" r="4.7"/><circle cx="2085.9" cy="834.4" r="4.7"/><circle cx="2079.6" cy="903.5" r="4.7"/><circle cx="2085.9" cy="905.4" r="4.7"/><circle cx="2094.4" cy="905.4" r="4.7"/>
<circle cx="2144.1" cy="911.6" r="4.7"/><circle cx="2085.4" cy="928.1" r="4.7"/><circle cx="2085.4" cy="936.2" r="4.7"/><circle cx="2085.9" cy="939" r="4.7"/><circle cx="2114.4" cy="926" r="4.7"/><circle cx="2141.2" cy="936" r="4.7"/>
<circle cx="1927.1" cy="955.4" r="4.7"/><circle cx="1965" cy="955.4" r="4.7"/><circle cx="1994.4" cy="955" r="4.7"/><circle cx="1921.2" cy="988.4" r="4.7"/><circle cx="1921.2" cy="992.5" r="4.7"/><circle cx="1921.2" cy="1005.9" r="4.7"/>
<circle cx="1922.2" cy="1020" r="4.7"/><circle cx="1922.2" cy="1023.8" r="4.7"/><circle cx="1930" cy="1021.5" r="4.7"/><circle cx="1922.2" cy="1044.6" r="4.7"/><circle cx="1929.6" cy="1045.2" r="4.7"/><circle cx="1963.4" cy="993.8" r="4.7"/>
<circle cx="1962.5" cy="997.9" r="4.7"/><circle cx="1963.4" cy="1008.8" r="4.7"/><circle cx="1963.4" cy="1008.8" r="4.7"/><circle cx="1963.8" cy="1012.5" r="4.7"/><circle cx="1963.8" cy="1015.6" r="4.7"/><circle cx="1963.8" cy="1015.6" r="4.7"/>
<circle cx="1963.4" cy="1018.1" r="4.7"/><circle cx="1976.5" cy="1021.2" r="4.7"/><circle cx="1964.6" cy="1034.4" r="4.7"/><circle cx="1964.6" cy="1034.4" r="4.7"/><circle cx="1965" cy="1036.2" r="4.7"/><circle cx="1965" cy="1036.2" r="4.7"/>
<circle cx="1964" cy="1043.8" r="4.7"/><circle cx="1964" cy="1043.8" r="4.7"/><circle cx="1964" cy="1046.2" r="4.7"/><circle cx="1994.1" cy="986.2" r="4.7"/><circle cx="1994.1" cy="986.2" r="4.7"/><circle cx="1994.6" cy="1005.2" r="4.7"/>
<circle cx="1993.8" cy="1021.5" r="4.7"/><circle cx="1993.8" cy="1021.5" r="4.7"/><circle cx="1993.8" cy="1021.5" r="4.7"/><circle cx="2002.2" cy="1024.4" r="4.7"/><circle cx="2001.2" cy="1036.5" r="4.7"/><circle cx="1994.4" cy="1040.6" r="4.7"/>
<circle cx="2069.4" cy="963.8" r="4.7"/><circle cx="2080" cy="969.1" r="4.7"/><circle cx="2069.4" cy="979.8" r="4.7"/><circle cx="2050.4" cy="984.1" r="4.7"/><circle cx="2032.2" cy="992.5" r="4.7"/><circle cx="2035.4" cy="996.9" r="4.7"/>
<circle cx="2035.4" cy="1000" r="4.7"/><circle cx="2031.2" cy="1002.5" r="4.7"/><circle cx="2035.6" cy="1004.4" r="4.7"/><circle cx="2055.6" cy="997.8" r="4.7"/><circle cx="2066" cy="993.8" r="4.7"/><circle cx="2028.4" cy="1014.1" r="4.7"/>
<circle cx="2020" cy="1019.6" r="4.7"/><circle cx="2035.4" cy="1019.4" r="4.7"/><circle cx="2019.4" cy="1031.6" r="4.7"/><circle cx="2035.4" cy="1033.1" r="4.7"/><circle cx="2035.4" cy="1037.5" r="4.7"/><circle cx="2050.4" cy="1030" r="4.7"/>
<circle cx="2050.4" cy="1035" r="4.7"/><circle cx="2013.1" cy="1037.5" r="4.7"/><circle cx="2013.8" cy="1043.1" r="4.7"/><circle cx="2019.6" cy="1045" r="4.7"/><circle cx="2064" cy="1045.2" r="4.7"/><circle cx="2125.9" cy="954.4" r="4.7"/>
<circle cx="2131.9" cy="954.4" r="4.7"/><circle cx="2131.9" cy="954.4" r="4.7"/><circle cx="2094.6" cy="963.1" r="4.7"/><circle cx="2086.2" cy="972.5" r="4.7"/><circle cx="2115.6" cy="970.9" r="4.7"/><circle cx="2121" cy="972.5" r="4.7"/>
<circle cx="2114.8" cy="980.4" r="4.7"/><circle cx="2108.1" cy="984.8" r="4.7"/><circle cx="2094.1" cy="986.9" r="4.7"/><circle cx="2109.6" cy="991" r="4.7"/><circle cx="2131.5" cy="988.4" r="4.7"/><circle cx="2144.1" cy="999.6" r="4.7"/>
<circle cx="2144.1" cy="999.6" r="4.7"/><circle cx="2144.1" cy="999.6" r="4.7"/><circle cx="2085.9" cy="1004.6" r="4.7"/><circle cx="2114.8" cy="1005.2" r="4.7"/><circle cx="2086.2" cy="1015.6" r="4.7"/><circle cx="2086.2" cy="1015.6" r="4.7"/>
<circle cx="2087.1" cy="1025" r="4.7"/><circle cx="2118.8" cy="1028.4" r="4.7"/><circle cx="2109.4" cy="1033.4" r="4.7"/><circle cx="2109.4" cy="1033.4" r="4.7"/><circle cx="2116.2" cy="1037.5" r="4.7"/><circle cx="2085.4" cy="1036.2" r="4.7"/>
<circle cx="2085.4" cy="1040" r="4.7"/><circle cx="2085.4" cy="1040" r="4.7"/><circle cx="2085.4" cy="1040" r="4.7"/><circle cx="2085.4" cy="1043.1" r="4.7"/><circle cx="2107.5" cy="1043.1" r="4.7"/><circle cx="2114.8" cy="1045.9" r="4.7"/>
<circle cx="2140" cy="1044.4" r="4.7"/><circle cx="2143.8" cy="1044.4" r="4.7"/><circle cx="2143.8" cy="1044.4" r="4.7"/><circle cx="2145.6" cy="1044.4" r="4.7"/><circle cx="2195.2" cy="997.1" r="4.7"/><circle cx="2186.2" cy="1007.5" r="4.7"/>
<circle cx="2195.9" cy="1009.8" r="4.7"/><circle cx="2195.2" cy="1043.5" r="4.7"/><circle cx="2212.2" cy="812.5" r="4.7"/><circle cx="2240.2" cy="814.8" r="4.7"/><circle cx="2251.9" cy="810" r="4.7"/><circle cx="2262.8" cy="808.1" r="4.7"/>
<circle cx="2218.4" cy="837.5" r="4.7"/><circle cx="2212.2" cy="844.6" r="4.7"/><circle cx="2252.1" cy="847.9" r="4.7"/><circle cx="2252.1" cy="847.9" r="4.7"/><circle cx="2262.5" cy="840.6" r="4.7"/><circle cx="2252.1" cy="862.5" r="4.7"/>
<circle cx="2252.5" cy="870" r="4.7"/><circle cx="2252.5" cy="875.6" r="4.7"/><circle cx="2247.5" cy="883.1" r="4.7"/><circle cx="2247.5" cy="883.1" r="4.7"/><circle cx="2247.5" cy="883.1" r="4.7"/><circle cx="2252.1" cy="892.8" r="4.7"/>
<circle cx="2252.1" cy="892.8" r="4.7"/><circle cx="2224.1" cy="890" r="4.7"/><circle cx="2224.4" cy="896.9" r="4.7"/><circle cx="2217.2" cy="897.9" r="4.7"/><circle cx="2251.9" cy="915" r="4.7"/><circle cx="2251.9" cy="917.5" r="4.7"/>
<circle cx="2251.9" cy="917.5" r="4.7"/><circle cx="2251.9" cy="917.5" r="4.7"/><circle cx="2248.8" cy="915.6" r="4.7"/><circle cx="2212.2" cy="924" r="4.7"/><circle cx="2215.6" cy="928.1" r="4.7"/><circle cx="2246.2" cy="929.4" r="4.7"/>
<circle cx="2250" cy="930.6" r="4.7"/><circle cx="2250" cy="930.6" r="4.7"/><circle cx="2252.5" cy="932.5" r="4.7"/><circle cx="2259.4" cy="932.9" r="4.7"/><circle cx="2261.2" cy="935.2" r="4.7"/><circle cx="2211.2" cy="938.8" r="4.7"/>
<circle cx="2223.5" cy="938.1" r="4.7"/><circle cx="2217.5" cy="942.5" r="4.7"/><circle cx="2220" cy="945" r="4.7"/><circle cx="2243.5" cy="945" r="4.7"/><circle cx="2252.1" cy="941.2" r="4.7"/><circle cx="2252.1" cy="945.6" r="4.7"/>
<circle cx="2252.1" cy="945.6" r="4.7"/><circle cx="2287.1" cy="902.9" r="4.7"/><circle cx="2290.6" cy="904.4" r="4.7"/><circle cx="2291.5" cy="907.2" r="4.7"/><circle cx="2301.2" cy="927.1" r="4.7"/><circle cx="2300" cy="941.6" r="4.7"/>
<circle cx="2331.9" cy="823.5" r="4.7"/><circle cx="2331.9" cy="823.5" r="4.7"/><circle cx="2329.4" cy="885" r="4.7"/><circle cx="2331.9" cy="905" r="4.7"/><circle cx="2331.9" cy="915" r="4.7"/><circle cx="2330.2" cy="921" r="4.7"/>
<circle cx="2331.9" cy="947.2" r="4.7"/><circle cx="2374.4" cy="806.9" r="4.7"/><circle cx="2366.9" cy="815.2" r="4.7"/><circle cx="2366.9" cy="831.2" r="4.7"/><circle cx="2372.9" cy="857.5" r="4.7"/><circle cx="2372.9" cy="860.4" r="4.7"/>
<circle cx="2372.9" cy="860.4" r="4.7"/><circle cx="2372.9" cy="878.4" r="4.7"/><circle cx="2372.9" cy="908.4" r="4.7"/><circle cx="2355.6" cy="931.2" r="4.7"/><circle cx="2217.5" cy="954.4" r="4.7"/><circle cx="2215.6" cy="962.1" r="4.7"/>
<circle cx="2214.8" cy="978.8" r="4.7"/><circle cx="2214.8" cy="990" r="4.7"/><circle cx="2220" cy="993.1" r="4.7"/><circle cx="2222.5" cy="993.4" r="4.7"/><circle cx="2222.5" cy="993.4" r="4.7"/><circle cx="2224.4" cy="993.8" r="4.7"/>
<circle cx="2210" cy="1000" r="4.7"/><circle cx="2210.6" cy="1003.8" r="4.7"/><circle cx="2210.6" cy="1003.8" r="4.7"/><circle cx="2214.4" cy="1007.5" r="4.7"/><circle cx="2210" cy="1020.6" r="4.7"/><circle cx="2223.1" cy="1023.8" r="4.7"/>
<circle cx="2223.1" cy="1023.8" r="4.7"/><circle cx="2220.6" cy="1026.9" r="4.7"/><circle cx="2208.8" cy="1030" r="4.7"/><circle cx="2223.8" cy="1034.8" r="4.7"/><circle cx="2213.1" cy="1040.6" r="4.7"/><circle cx="2213.1" cy="1040.6" r="4.7"/>
<circle cx="2210" cy="1041.9" r="4.7"/><circle cx="2217.5" cy="1042.5" r="4.7"/><circle cx="2221.9" cy="1043.1" r="4.7"/><circle cx="2240" cy="983.1" r="4.7"/><circle cx="2240" cy="990.2" r="4.7"/><circle cx="2239.4" cy="1000" r="4.7"/>
<circle cx="2245" cy="1001.2" r="4.7"/><circle cx="2243.8" cy="1016.2" r="4.7"/><circle cx="2240" cy="1023.1" r="4.7"/><circle cx="2236.9" cy="1029" r="4.7"/><circle cx="2244.4" cy="1029.4" r="4.7"/><circle cx="2237.2" cy="1042.1" r="4.7"/>
<circle cx="2258.8" cy="954.6" r="4.7"/><circle cx="2258.8" cy="976.9" r="4.7"/><circle cx="2262.8" cy="963.1" r="4.7"/><circle cx="2262.8" cy="992.5" r="4.7"/><circle cx="2259.4" cy="1004.4" r="4.7"/><circle cx="2263.1" cy="1032.5" r="4.7"/>
<circle cx="2263.8" cy="1035.6" r="4.7"/><circle cx="2301.2" cy="951.2" r="4.7"/><circle cx="2293.4" cy="961" r="4.7"/><circle cx="2283.1" cy="980.4" r="4.7"/><circle cx="2301.2" cy="989.6" r="4.7"/><circle cx="2285.4" cy="1004.4" r="4.7"/>
<circle cx="2273.4" cy="1017.5" r="4.7"/><circle cx="2291.2" cy="1023.4" r="4.7"/><circle cx="2300.4" cy="1026.2" r="4.7"/><circle cx="2300.4" cy="1030.6" r="4.7"/><circle cx="2291.2" cy="1035" r="4.7"/><circle cx="2293.1" cy="1038.5" r="4.7"/>
<circle cx="2284.4" cy="1040.9" r="4.7"/><circle cx="2287.5" cy="1044.4" r="4.7"/><circle cx="2300.4" cy="1045.2" r="4.7"/><circle cx="2300.4" cy="1045.2" r="4.7"/><circle cx="2331.9" cy="970.6" r="4.7"/><circle cx="2340.4" cy="994.6" r="4.7"/>
<circle cx="2331.9" cy="999.1" r="4.7"/><circle cx="2329.1" cy="1007.2" r="4.7"/><circle cx="2340.6" cy="1011.9" r="4.7"/><circle cx="2340.6" cy="1013.8" r="4.7"/><circle cx="2325.6" cy="1025.4" r="4.7"/><circle cx="2325.6" cy="1029.4" r="4.7"/>
<circle cx="2333.8" cy="1029.1" r="4.7"/><circle cx="2335" cy="1030.6" r="4.7"/><circle cx="2322.1" cy="1039.4" r="4.7"/><circle cx="2331.2" cy="1041.2" r="4.7"/><circle cx="2331.2" cy="1041.2" r="4.7"/><circle cx="2329.4" cy="1045.6" r="4.7"/>
<circle cx="2338.8" cy="1043.1" r="4.7"/><circle cx="2372.9" cy="952.8" r="4.7"/><circle cx="2372.9" cy="969.4" r="4.7"/><circle cx="2355.6" cy="984.6" r="4.7"/><circle cx="2373.1" cy="981.2" r="4.7"/><circle cx="2372.2" cy="987.5" r="4.7"/>
<circle cx="2371.9" cy="992.5" r="4.7"/><circle cx="2372.5" cy="993.8" r="4.7"/><circle cx="2372.9" cy="1004.6" r="4.7"/><circle cx="2355.6" cy="1012.1" r="4.7"/><circle cx="2371.2" cy="1017.5" r="4.7"/><circle cx="2365.6" cy="1026.9" r="4.7"/>
<circle cx="2372.5" cy="1030" r="4.7"/><circle cx="2373.1" cy="1036.2" r="4.7"/><circle cx="2373.4" cy="1039" r="4.7"/><circle cx="2373.4" cy="1039" r="4.7"/><circle cx="2370.6" cy="1042.5" r="4.7"/><circle cx="2358.5" cy="1045.6" r="4.7"/>
<circle cx="2381.2" cy="1021.2" r="4.7"/><circle cx="2381.2" cy="1029.4" r="4.7"/><circle cx="2250.4" cy="960.1" r="4.7"/><circle cx="2249.4" cy="958.7" r="4.7"/><circle cx="2246.4" cy="966" r="4.7"/><circle cx="2247.2" cy="966.6" r="4.7"/>
<circle cx="2247.4" cy="967.1" r="4.7"/><circle cx="2247.5" cy="967.6" r="4.7"/><circle cx="2247.6" cy="968.2" r="4.7"/><circle cx="2247.7" cy="968.7" r="4.7"/><circle cx="2248.6" cy="969.2" r="4.7"/><circle cx="2248.7" cy="969.7" r="4.7"/>
<circle cx="2251.1" cy="974.3" r="4.7"/><circle cx="2252" cy="974.9" r="4.7"/><circle cx="2252.1" cy="975.5" r="4.7"/><circle cx="2252.2" cy="976.1" r="4.7"/><circle cx="2252.3" cy="976.7" r="4.7"/><circle cx="2252.4" cy="977.4" r="4.7"/>
<circle cx="2253.3" cy="978" r="4.7"/><circle cx="2248.5" cy="984.9" r="4.7"/><circle cx="2249" cy="985.3" r="4.7"/><circle cx="2251.3" cy="983" r="4.7"/><circle cx="2251.9" cy="990.9" r="4.7"/><circle cx="2252.5" cy="991.9" r="4.7"/>
<circle cx="2252.4" cy="992.9" r="4.7"/><circle cx="2252.2" cy="993.9" r="4.7"/><circle cx="2252.1" cy="994.9" r="4.7"/><circle cx="2251.9" cy="995.9" r="4.7"/><circle cx="2252.5" cy="996.9" r="4.7"/><circle cx="2252.4" cy="997.9" r="4.7"/>
<circle cx="2252.2" cy="998.9" r="4.7"/><circle cx="2252.1" cy="999.9" r="4.7"/><circle cx="2251.9" cy="1000.9" r="4.7"/><circle cx="2251.9" cy="1003.6" r="4.7"/><circle cx="2252.5" cy="1005.2" r="4.7"/><circle cx="2252.4" cy="1006.9" r="4.7"/>
<circle cx="2252.2" cy="1008.5" r="4.7"/><circle cx="2252.1" cy="1010.2" r="4.7"/><circle cx="2251.7" cy="1013.6" r="4.7"/><circle cx="2252.3" cy="1014.3" r="4.7"/><circle cx="2252.2" cy="1015" r="4.7"/><circle cx="2252" cy="1015.7" r="4.7"/>
<circle cx="2251.9" cy="1016.4" r="4.7"/><circle cx="2251.8" cy="1017.1" r="4.7"/><circle cx="2252.4" cy="1017.8" r="4.7"/><circle cx="2252.2" cy="1018.5" r="4.7"/><circle cx="2252.1" cy="1019.2" r="4.7"/><circle cx="2251.9" cy="1019.8" r="4.7"/>
<circle cx="2251.8" cy="1020.5" r="4.7"/><circle cx="2252.4" cy="1021.2" r="4.7"/><circle cx="2252.3" cy="1021.9" r="4.7"/><circle cx="2252.1" cy="1022.6" r="4.7"/><circle cx="2252" cy="1023.3" r="4.7"/><circle cx="2251.8" cy="1024" r="4.7"/>
<circle cx="2252.4" cy="1024.7" r="4.7"/><circle cx="2252.3" cy="1025.3" r="4.7"/><circle cx="2252.2" cy="1026" r="4.7"/><circle cx="2252" cy="1026.7" r="4.7"/><circle cx="2251.9" cy="1027.4" r="4.7"/><circle cx="2252.5" cy="1028.1" r="4.7"/>
<circle cx="2252.3" cy="1028.8" r="4.7"/><circle cx="2252.2" cy="1029.5" r="4.7"/><circle cx="2252.1" cy="1030.2" r="4.7"/><circle cx="2251.9" cy="1030.8" r="4.7"/><circle cx="2252.5" cy="1031.5" r="4.7"/><circle cx="2252.4" cy="1032.2" r="4.7"/>
<circle cx="2252.2" cy="1032.9" r="4.7"/><circle cx="2252.1" cy="1033.6" r="4.7"/><circle cx="2252" cy="1034.3" r="4.7"/><circle cx="2252.6" cy="1035" r="4.7"/><circle cx="2252.4" cy="1035.7" r="4.7"/><circle cx="2252.3" cy="1036.4" r="4.7"/>
<circle cx="2252.1" cy="1037" r="4.7"/><circle cx="2252" cy="1037.7" r="4.7"/><circle cx="2252.6" cy="1038.4" r="4.7"/><circle cx="2252.5" cy="1039.1" r="4.7"/><circle cx="2252.3" cy="1039.8" r="4.7"/><circle cx="2252.2" cy="1040.5" r="4.7"/>
<circle cx="2252" cy="1041.2" r="4.7"/><circle cx="2252.6" cy="1041.9" r="4.7"/><circle cx="2252.5" cy="1042.5" r="4.7"/><circle cx="2252.4" cy="1043.2" r="4.7"/><circle cx="2252.2" cy="1043.9" r="4.7"/><circle cx="2252.1" cy="1044.6" r="4.7"/>
<circle cx="2252.7" cy="1045.3" r="4.7"/><circle cx="2252.5" cy="1046" r="4.7"/><circle cx="2251.3" cy="1049.1" r="4.7"/><circle cx="988.5" cy="969.7" r="4.7"/><circle cx="988.3" cy="954.3" r="4.7"/><circle cx="989.1" cy="955.5" r="4.7"/>
<circle cx="989.1" cy="956.7" r="4.7"/><circle cx="989.2" cy="957.8" r="4.7"/><circle cx="996.8" cy="953.7" r="4.7"/><circle cx="988.4" cy="975.3" r="4.7"/><circle cx="989.1" cy="976" r="4.7"/><circle cx="989" cy="976.7" r="4.7"/>
<circle cx="988.9" cy="977.5" r="4.7"/><circle cx="988.8" cy="978.2" r="4.7"/><circle cx="988.7" cy="978.9" r="4.7"/><circle cx="989.4" cy="979.6" r="4.7"/><circle cx="989.3" cy="980.3" r="4.7"/><circle cx="989.2" cy="981" r="4.7"/>
<circle cx="989.1" cy="981.8" r="4.7"/><circle cx="988.6" cy="985.3" r="4.7"/><circle cx="989.2" cy="986.2" r="4.7"/><circle cx="989.2" cy="987.2" r="4.7"/><circle cx="989.1" cy="988.1" r="4.7"/><circle cx="988.5" cy="993.1" r="4.7"/>
<circle cx="988.5" cy="995.9" r="4.7"/><circle cx="988.3" cy="997.7" r="4.7"/><circle cx="988.1" cy="1003.2" r="4.7"/><circle cx="987.8" cy="1009" r="4.7"/><circle cx="988.5" cy="1009.6" r="4.7"/><circle cx="988.5" cy="1010.2" r="4.7"/>
<circle cx="989" cy="1012.8" r="4.7"/><circle cx="987.2" cy="1019.7" r="4.7"/><circle cx="988.6" cy="1023.7" r="4.7"/><circle cx="989.1" cy="1024.4" r="4.7"/><circle cx="988.9" cy="1025" r="4.7"/><circle cx="988.6" cy="1025.7" r="4.7"/>
<circle cx="988.4" cy="1026.3" r="4.7"/><circle cx="988.2" cy="1027" r="4.7"/><circle cx="988.7" cy="1027.7" r="4.7"/><circle cx="988.4" cy="1028.3" r="4.7"/><circle cx="988.2" cy="1029" r="4.7"/><circle cx="987.9" cy="1029.6" r="4.7"/>
<circle cx="987.7" cy="1030.3" r="4.7"/><circle cx="988.2" cy="1030.9" r="4.7"/><circle cx="987.9" cy="1031.6" r="4.7"/><circle cx="987.7" cy="1032.2" r="4.7"/><circle cx="987.4" cy="1032.9" r="4.7"/><circle cx="988" cy="1033.6" r="4.7"/>
<circle cx="988" cy="1034.3" r="4.7"/><circle cx="987.9" cy="1035" r="4.7"/><circle cx="987.8" cy="1035.7" r="4.7"/><circle cx="987.8" cy="1036.4" r="4.7"/><circle cx="988.4" cy="1037.1" r="4.7"/><circle cx="988.4" cy="1037.8" r="4.7"/>
<circle cx="988.3" cy="1038.5" r="4.7"/><circle cx="988.2" cy="1039.2" r="4.7"/><circle cx="988.2" cy="1039.9" r="4.7"/><circle cx="988.8" cy="1040.6" r="4.7"/><circle cx="988.8" cy="1041.3" r="4.7"/><circle cx="988.7" cy="1042" r="4.7"/>
<circle cx="988.6" cy="1042.7" r="4.7"/><circle cx="988.6" cy="1043.4" r="4.7"/><circle cx="989.3" cy="1044.1" r="4.7"/><circle cx="295.4" cy="794.4" r="4.7"/><circle cx="2370.6" cy="1017.5" r="4.7"/>
</g>
<circle cx="287.2" cy="541.9" r="23.8" fill="#e60000"/>
<text class="ttl" transform="translate(286.6,503.2) scale(1,1.025)">rs6003</text>
<path class="ax" d="M133.1 18V1115"/>
<path class="ax" style="stroke-width:8" d="M133.1 1115H2381.7"/>
<g class="tk">
<path d="M109.2 1115.0H133.2"/><path d="M109.2 840.8H133.2"/><path d="M109.2 566.6H133.2"/><path d="M109.2 292.4H133.2"/><path d="M109.2 18.2H133.2"/>
<path d="M132.95 1115V1138.7"/><path d="M327.95 1115V1138.7"/><path d="M517.35 1115V1138.7"/><path d="M672.45 1115V1138.7"/><path d="M821.15 1115V1138.7"/><path d="M963.35 1115V1138.7"/><path d="M1096.95 1115V1138.7"/><path d="M1221.45 1115V1138.7"/><path d="M1335.15 1115V1138.7"/><path d="M1443.35 1115V1138.7"/><path d="M1548.15 1115V1138.7"/><path d="M1653.65 1115V1138.7"/><path d="M1758.15 1115V1138.7"/><path d="M1847.45 1115V1138.7"/><path d="M1931.15 1115V1138.7"/><path d="M2010.95 1115V1138.7"/><path d="M2081.65 1115V1138.7"/><path d="M2146.85 1115V1138.7"/><path d="M2210.15 1115V1138.7"/><path d="M2255.45 1115V1138.7"/><path d="M2305.95 1115V1138.7"/><path d="M2342.45 1115V1138.7"/>
</g>
<text class="yl" transform="translate(101.6,1125.9) scale(1,1.07)">0.0</text>
<text class="yl" transform="translate(101.6,851.7) scale(1,1.07)">0.2</text>
<text class="yl" transform="translate(101.6,577.5) scale(1,1.07)">0.4</text>
<text class="yl" transform="translate(101.6,303.3) scale(1,1.07)">0.6</text>
<text class="yl" transform="translate(101.6,29.1) scale(1,1.07)">0.8</text>
<text class="ttl" transform="translate(1257.3,1174.7) scale(1,1.025)">Chromosomes</text>
<text class="ttl" transform="translate(44,566.6) rotate(-90) scale(1,1.025)">site.FST</text>
</svg>
</body>
</html>
